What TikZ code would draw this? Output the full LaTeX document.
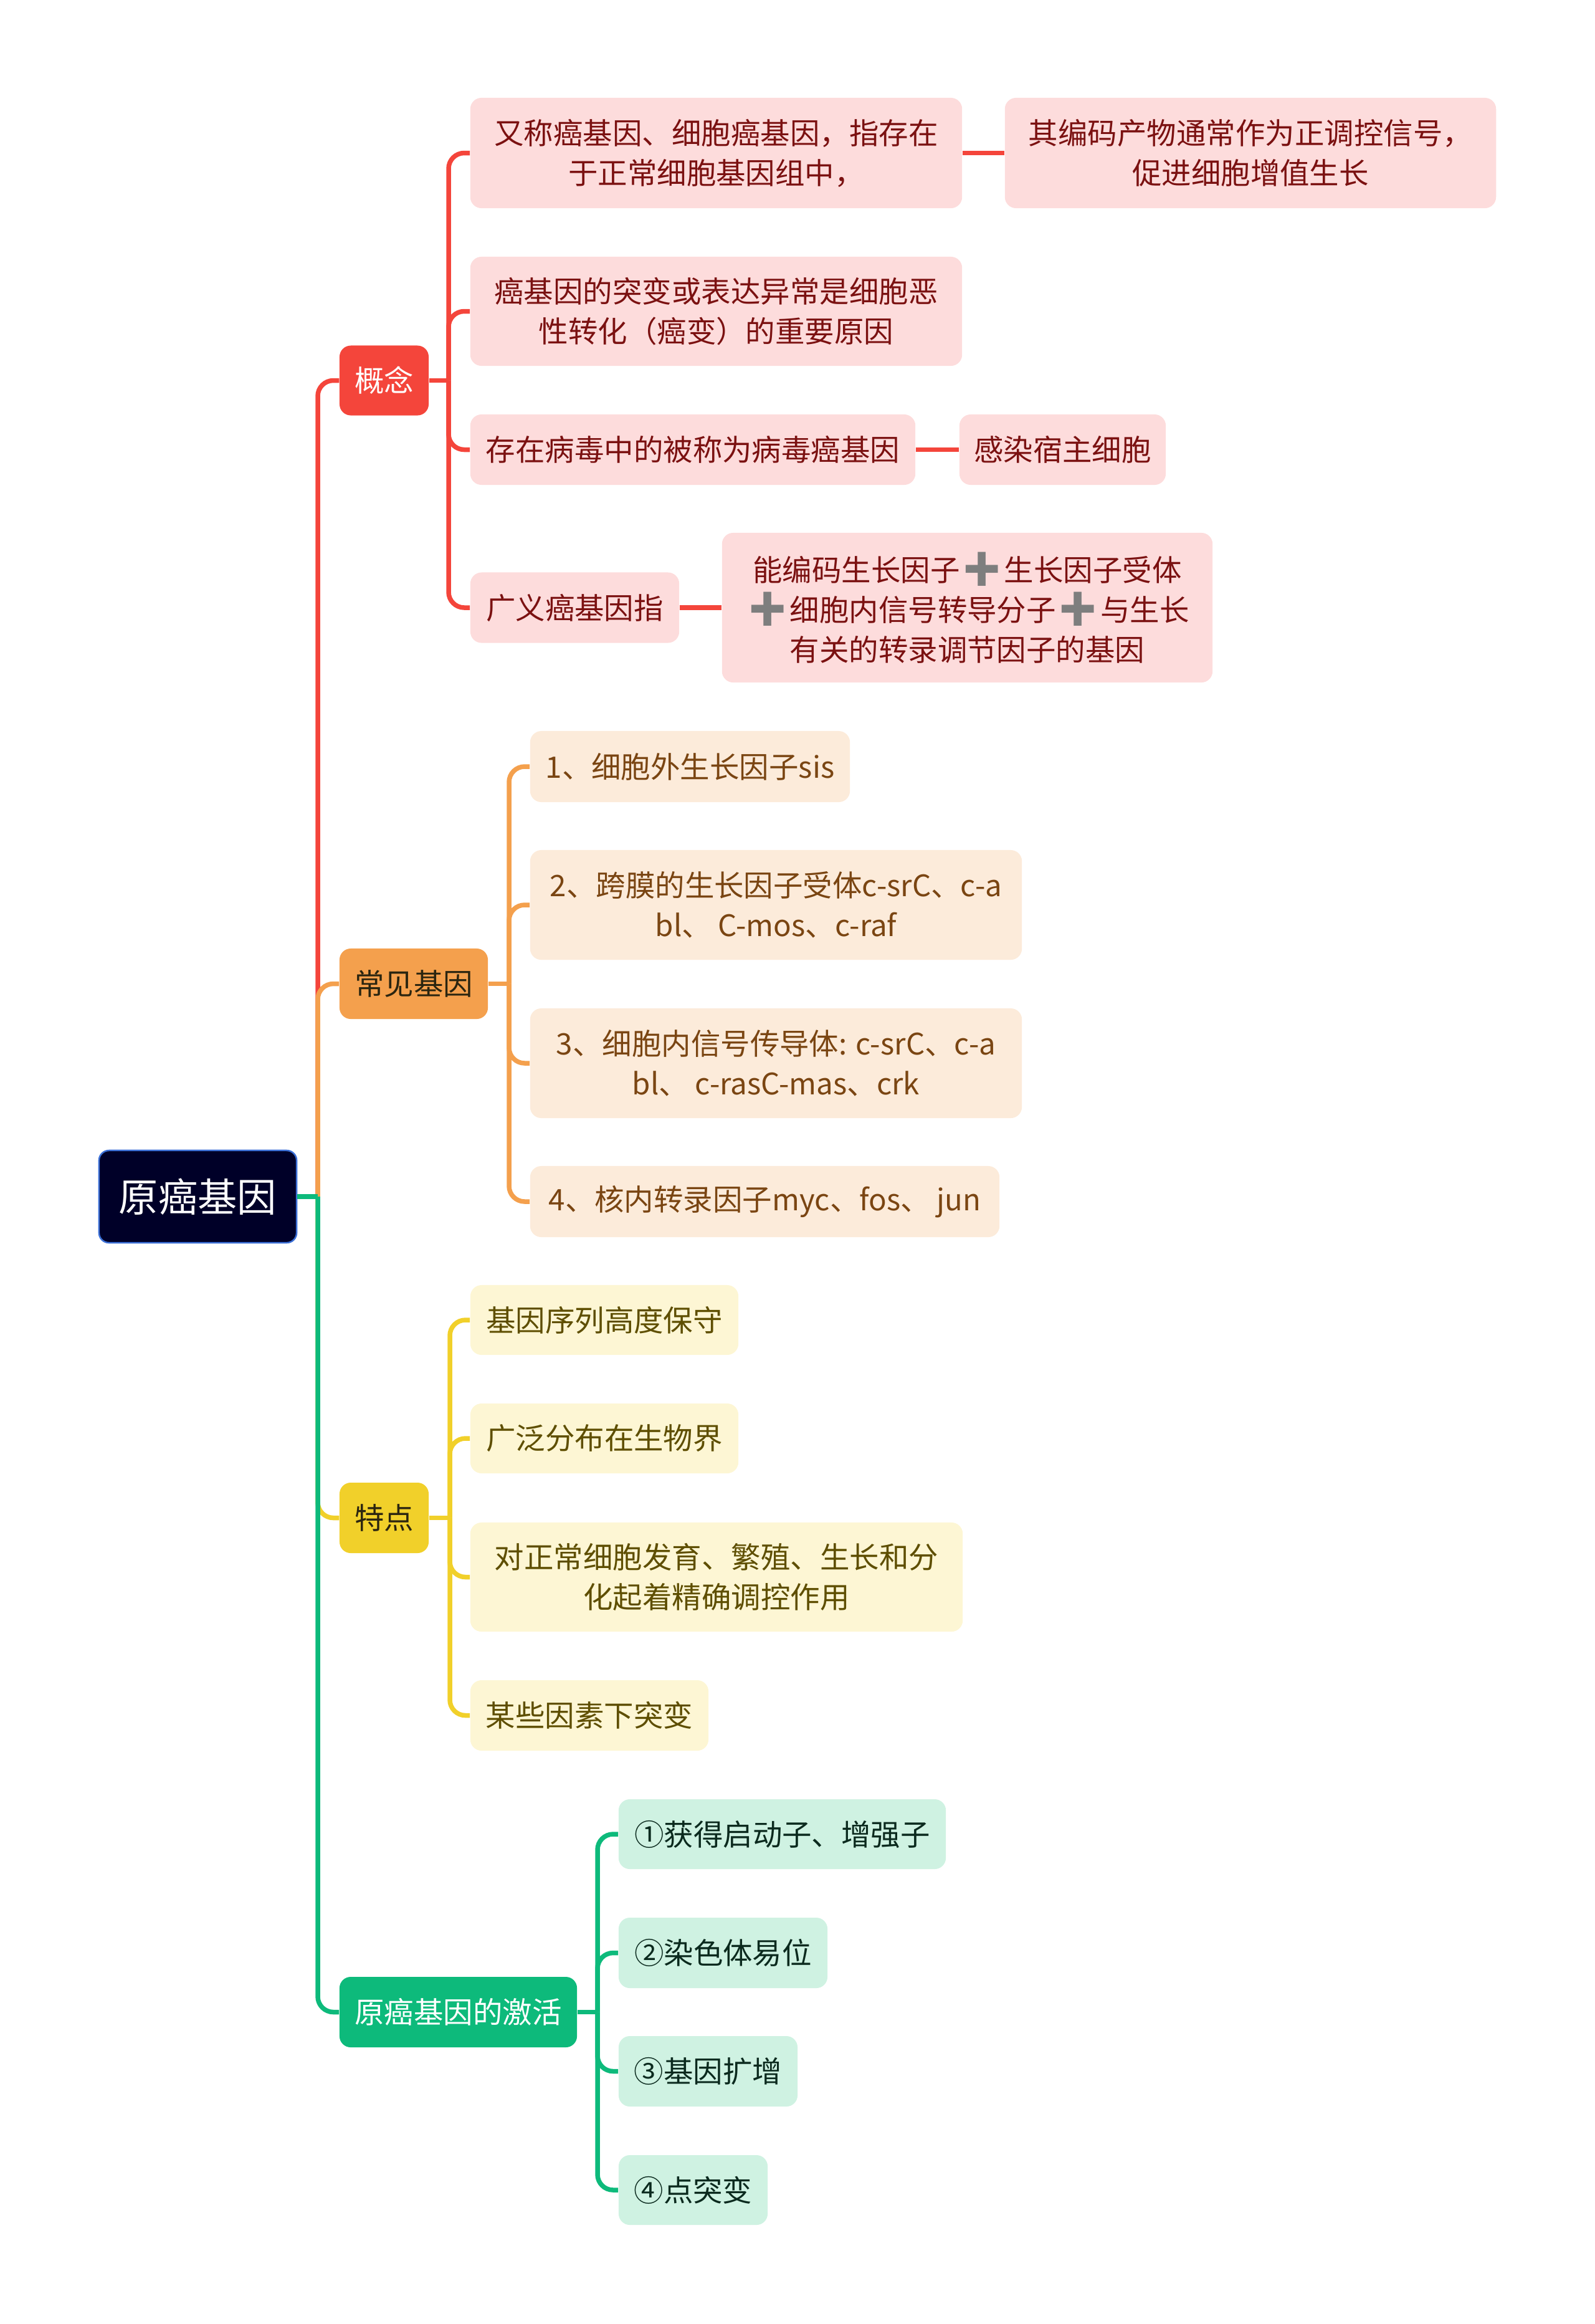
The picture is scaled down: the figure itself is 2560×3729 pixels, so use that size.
\documentclass[tikz,border=0pt]{standalone}
\usepackage{fontspec}
\setmainfont{Noto Sans CJK SC}
\newfontfamily\emojifont{Noto Emoji}
\definecolor{cred}{HTML}{F4453B}
\definecolor{credfill}{HTML}{FDDCDC}
\definecolor{credtext}{HTML}{7B1111}
\definecolor{cora}{HTML}{F4A04D}
\definecolor{corafill}{HTML}{FCEBDA}
\definecolor{coratext}{HTML}{7A4512}
\definecolor{cyel}{HTML}{F1D02A}
\definecolor{cyelfill}{HTML}{FDF6D4}
\definecolor{cyeltext}{HTML}{5E4E00}
\definecolor{cgrn}{HTML}{0DBA7B}
\definecolor{cgrnfill}{HTML}{CFF2E2}
\definecolor{cgrntext}{HTML}{0B2A1E}
\definecolor{crootfill}{HTML}{000028}
\definecolor{crootline}{HTML}{3B6FD6}
\definecolor{cdark}{HTML}{2B2510}
\definecolor{plusgray}{HTML}{7E7E7E}
\newcommand\plusmark{{\emojifont\fontsize{16pt}{18.2pt}\selectfont\color{plusgray}➕}}
\begin{document}
\begin{tikzpicture}[x=0.01cm,y=-0.01cm,
  box/.style={rectangle, rounded corners=0.18cm, inner sep=0pt, align=center,
    font=\fontsize{13.5pt}{18.2pt}\selectfont},
  rootbox/.style={rectangle, rounded corners=0.16cm, inner sep=0pt, align=center,
    fill=crootfill, draw=crootline, line width=0.025cm, text=white,
    font=\fontsize{18pt}{22pt}\selectfont},
  redA/.style={box, fill=cred, text=white},
  redB/.style={box, fill=credfill, text=credtext},
  oraA/.style={box, fill=cora, text=cdark},
  oraB/.style={box, fill=corafill, text=coratext},
  yelA/.style={box, fill=cyel, text=cdark},
  yelB/.style={box, fill=cyelfill, text=cyeltext},
  grnA/.style={box, fill=cgrn, text=white},
  grnB/.style={box, fill=cgrnfill, text=cgrntext},
  rl/.style={draw=cred, line width=0.075cm},
  ol/.style={draw=cora, line width=0.075cm},
  yl/.style={draw=cyel, line width=0.075cm},
  gl/.style={draw=cgrn, line width=0.075cm},
  rc/.style={rounded corners=0.25cm}
]
\useasboundingbox (0,0) rectangle (2560,3729);

% trunk coordinates
\coordinate (t0) at (510,0);
\coordinate (t1) at (720,0);
\coordinate (t2) at (817,0);
\coordinate (t3) at (722,0);
\coordinate (t4) at (959,0);

% root
\node[rootbox, minimum width=3.17cm, minimum height=1.48cm] (root) at (317.5,1920) {原癌基因};

% level 1
\node[redA, minimum width=1.43cm, minimum height=1.12cm] (gn) at (616.5,610.5) {概念};
\node[oraA, minimum width=2.38cm, minimum height=1.13cm] (cj) at (664,1578.5) {常见基因};
\node[yelA, minimum width=1.43cm, minimum height=1.13cm] (td) at (616.5,2435.5) {特点};
\node[grnA, minimum width=3.81cm, minimum height=1.13cm] (jh) at (735.5,3228.5) {原癌基因的激活};

% 概念 children
\node[redB, minimum width=7.89cm, minimum height=1.77cm] (c1) at (1149.5,245.5) {又称癌基因、细胞癌基因，指存在\\于正常细胞基因组中，};
\node[redB, minimum width=7.88cm, minimum height=1.77cm] (c1a) at (2007,245.5) {其编码产物通常作为正调控信号，\\促进细胞增值生长};
\node[redB, minimum width=7.89cm, minimum height=1.75cm] (c2) at (1149.5,499.5) {癌基因的突变或表达异常是细胞恶\\性转化（癌变）的重要原因};
\node[redB, minimum width=7.14cm, minimum height=1.13cm] (c3) at (1112,721.5) {存在病毒中的被称为病毒癌基因};
\node[redB, minimum width=3.31cm, minimum height=1.13cm] (c3a) at (1705.5,721.5) {感染宿主细胞};
\node[redB, minimum width=3.35cm, minimum height=1.13cm] (c4) at (922.5,975) {广义癌基因指};
\node[redB, minimum width=7.87cm, minimum height=2.40cm] (c4a) at (1552.5,975) {能编码生长因子\plusmark 生长因子受体\\\plusmark 细胞内信号转导分子\plusmark 与生长\\有关的转录调节因子的基因};

% 常见基因 children
\node[oraB, minimum width=5.13cm, minimum height=1.14cm] (o1) at (1107.5,1230) {1、细胞外生长因子sis};
\node[oraB, minimum width=7.89cm, minimum height=1.76cm] (o2) at (1245.5,1452) {2、跨膜的生长因子受体c-srC、c-a\\bl、 C-mos、c-raf};
\node[oraB, minimum width=7.89cm, minimum height=1.76cm] (o3) at (1245.5,1706) {3、细胞内信号传导体: c-srC、c-a\\bl、 c-rasC-mas、crk};
\node[oraB, minimum width=7.53cm, minimum height=1.14cm] (o4) at (1227.5,1928) {4、核内转录因子myc、fos、 jun};

% 特点 children
\node[yelB, minimum width=4.30cm, minimum height=1.12cm] (y1) at (970,2118) {基因序列高度保守};
\node[yelB, minimum width=4.30cm, minimum height=1.12cm] (y2) at (970,2308) {广泛分布在生物界};
\node[yelB, minimum width=7.90cm, minimum height=1.75cm] (y3) at (1150,2530.5) {对正常细胞发育、繁殖、生长和分\\化起着精确调控作用};
\node[yelB, minimum width=3.82cm, minimum height=1.13cm] (y4) at (946,2752.5) {某些因素下突变};

% 激活 children
\node[grnB, minimum width=5.25cm, minimum height=1.12cm] (g1) at (1255.5,2943) {①获得启动子、增强子};
\node[grnB, minimum width=3.35cm, minimum height=1.13cm] (g2) at (1160.5,3133.5) {②染色体易位};
\node[grnB, minimum width=2.87cm, minimum height=1.13cm] (g3) at (1136.5,3323.5) {③基因扩增};
\node[grnB, minimum width=2.39cm, minimum height=1.12cm] (g4) at (1112.5,3514) {④点突变};

% root connectors
\draw[rl] (root.east) -- (root.east -| t0);
\draw[rl,rc] (root.east -| t0) |- (gn.west);
\draw[yl] (root.east) -- (root.east -| t0);
\draw[yl,rc] (root.east -| t0) |- (td.west);
\draw[ol] (root.east) -- (root.east -| t0);
\draw[ol,rc] (root.east -| t0) |- (cj.west);
\draw[gl] (root.east) -- (root.east -| t0);
\draw[gl,rc] (root.east -| t0) |- (jh.west);

% 概念 connectors
\draw[rl] (gn.east) -- (gn.east -| t1);
\foreach \c in {c1,c2,c3,c4} {\draw[rl,rc] (gn.east -| t1) |- (\c.west);}
\draw[rl] (c1.east) -- (c1a.west);
\draw[rl] (c3.east) -- (c3a.west);
\draw[rl] (c4.east) -- (c4a.west);

% 常见基因 connectors
\draw[ol] (cj.east) -- (cj.east -| t2);
\foreach \c in {o1,o2,o3,o4} {\draw[ol,rc] (cj.east -| t2) |- (\c.west);}

% 特点 connectors
\draw[yl] (td.east) -- (td.east -| t3);
\foreach \c in {y1,y2,y3,y4} {\draw[yl,rc] (td.east -| t3) |- (\c.west);}

% 激活 connectors
\draw[gl] (jh.east) -- (jh.east -| t4);
\foreach \c in {g1,g2,g3,g4} {\draw[gl,rc] (jh.east -| t4) |- (\c.west);}
\end{tikzpicture}
\end{document}
